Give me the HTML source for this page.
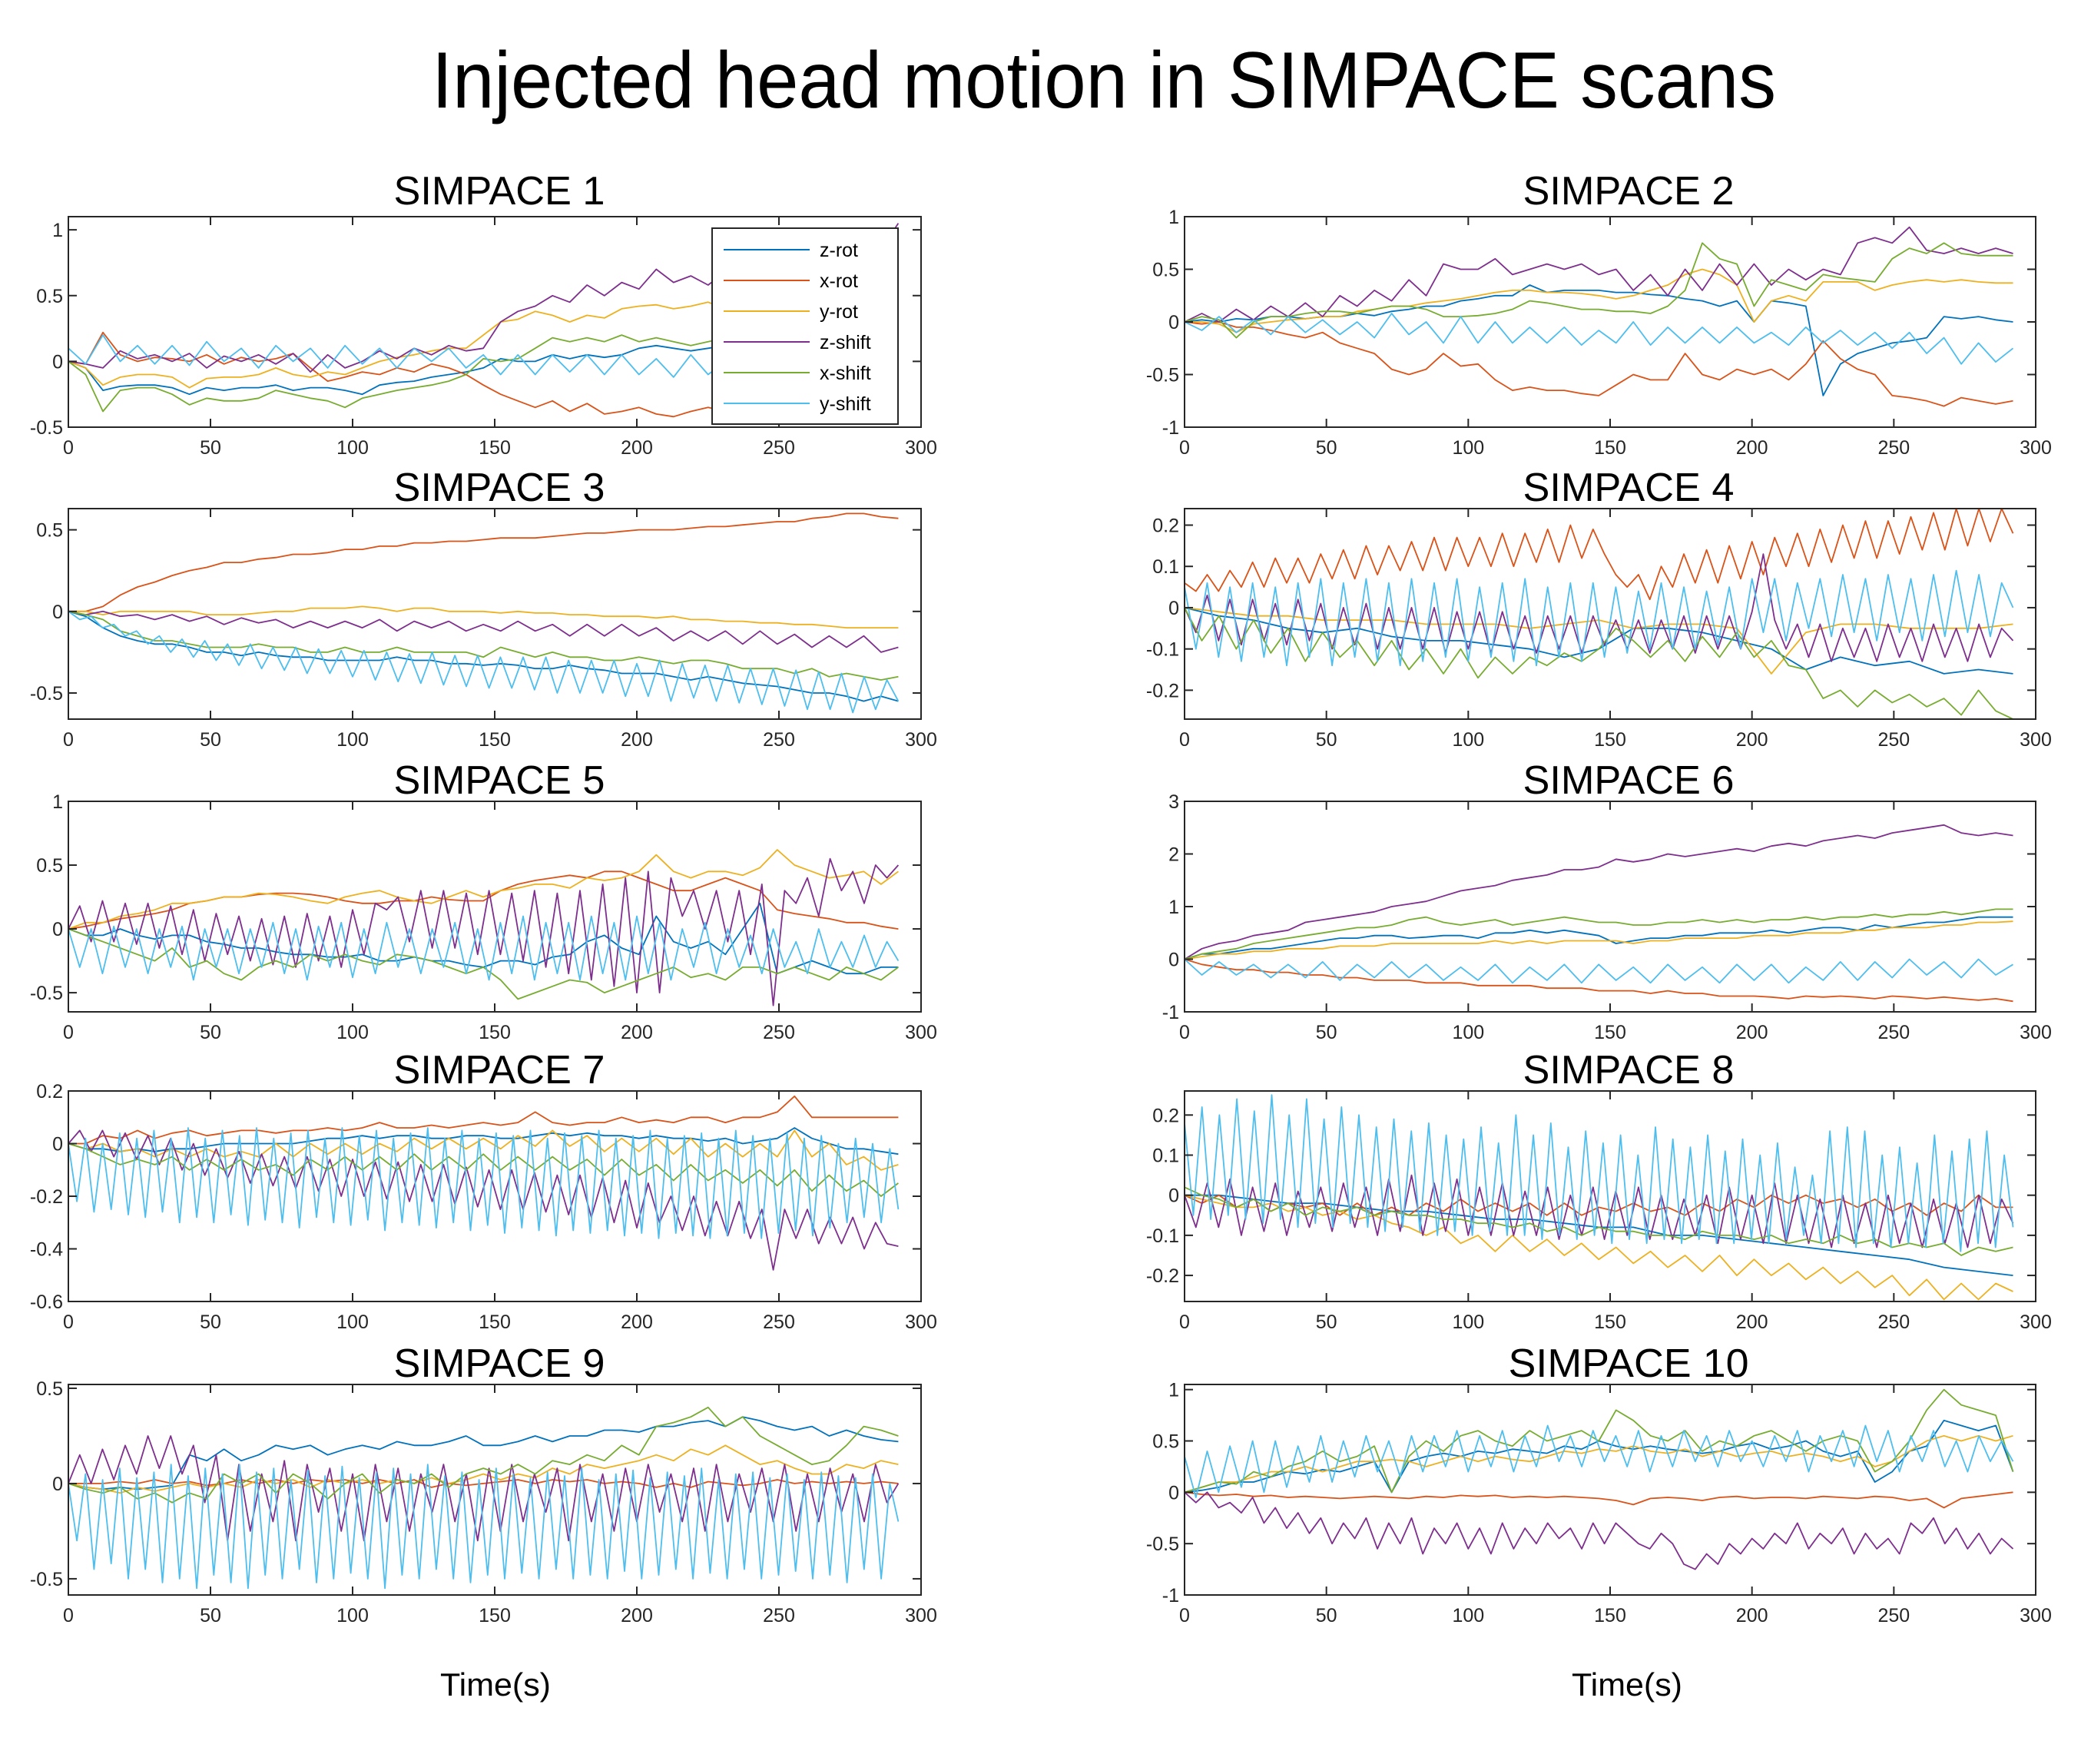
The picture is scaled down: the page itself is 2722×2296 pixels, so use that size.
<!DOCTYPE html>
<html><head><meta charset="utf-8"><style>
html,body{margin:0;padding:0;background:#fff;}
svg{display:block;}
</style></head><body>
<svg id="fig" width="2722" height="2296" viewBox="0 0 2722 2296" xmlns="http://www.w3.org/2000/svg">
<rect x="0" y="0" width="2722" height="2296" fill="#fff"/>
<text x="1437" y="140" text-anchor="middle" font-family="Liberation Sans, sans-serif" font-size="104" textLength="1750" lengthAdjust="spacingAndGlyphs" fill="#000">Injected head motion in SIMPACE scans</text>
<text x="645" y="2207" text-anchor="middle" font-family="Liberation Sans, sans-serif" font-size="42" textLength="144" lengthAdjust="spacingAndGlyphs" fill="#000">Time(s)</text>
<text x="2118" y="2207" text-anchor="middle" font-family="Liberation Sans, sans-serif" font-size="42" textLength="144" lengthAdjust="spacingAndGlyphs" fill="#000">Time(s)</text>
<g id="plots"></g>
</svg>
<script>
// ---- data ----
const seriesNames = ["z-rot","x-rot","y-rot","z-shift","x-shift","y-shift"];
const xTicks = [0,50,100,150,200,250,300];

const p1_zrot=[0,-0.05,-0.22,-0.19,-0.18,-0.18,-0.2,-0.25,-0.2,-0.22,-0.2,-0.2,-0.18,-0.22,-0.2,-0.2,-0.22,-0.25,-0.18,-0.16,-0.15,-0.12,-0.1,-0.08,-0.05,0.02,0.0,0.0,0.05,0.02,0.05,0.03,0.05,0.1,0.12,0.1,0.08,0.1,0.12,0.1,0.07,0.05,0.06,0.05,0.08,0.05,0.04,0.05,0.05];
const p1_xrot=[0,-0.02,0.22,0.05,0.0,0.03,0.02,0.0,0.05,-0.02,0.03,0.0,0.02,0.06,-0.05,-0.15,-0.12,-0.08,-0.1,-0.05,-0.08,-0.02,-0.05,-0.1,-0.18,-0.25,-0.3,-0.35,-0.3,-0.38,-0.32,-0.4,-0.38,-0.35,-0.4,-0.42,-0.38,-0.35,-0.38,-0.4,-0.36,-0.38,-0.34,-0.4,-0.36,-0.38,-0.35,-0.38,-0.4];
const p1_yrot=[0,-0.05,-0.18,-0.12,-0.1,-0.1,-0.12,-0.2,-0.13,-0.12,-0.12,-0.1,-0.05,-0.1,-0.12,-0.08,-0.1,-0.05,0.0,0.03,0.05,0.08,0.1,0.1,0.2,0.3,0.32,0.38,0.35,0.3,0.35,0.33,0.4,0.42,0.43,0.4,0.42,0.45,0.4,0.42,0.43,0.4,0.45,0.42,0.4,0.43,0.4,0.42,0.4];
const p1_zshift=[0,-0.02,-0.05,0.08,0.02,0.05,0.0,0.06,-0.05,0.04,0.0,0.05,-0.02,0.06,-0.08,0.05,-0.05,0.0,0.08,0.02,0.1,0.05,0.12,0.08,0.1,0.3,0.38,0.42,0.5,0.45,0.58,0.5,0.6,0.55,0.7,0.6,0.65,0.58,0.68,0.62,0.7,0.65,0.75,0.7,0.8,0.75,0.9,0.85,1.05];
const p1_xshift=[0,-0.1,-0.38,-0.22,-0.2,-0.2,-0.25,-0.33,-0.28,-0.3,-0.3,-0.28,-0.22,-0.25,-0.28,-0.3,-0.35,-0.28,-0.25,-0.22,-0.2,-0.18,-0.15,-0.1,0.02,0.0,0.02,0.1,0.18,0.15,0.18,0.15,0.2,0.15,0.18,0.15,0.12,0.15,0.18,0.2,0.15,0.12,0.1,0.12,0.1,0.12,0.1,0.12,0.1];
const p1_yshift=[0.1,-0.02,0.2,0.0,0.12,-0.02,0.12,-0.03,0.15,0.0,0.1,-0.05,0.12,0.0,0.1,-0.05,0.12,-0.02,0.1,-0.05,0.1,0.0,0.1,-0.05,0.05,-0.1,0.05,-0.1,0.05,-0.08,0.05,-0.1,0.05,-0.1,0.02,-0.12,0.05,-0.1,0.0,-0.12,0.02,-0.1,0.0,-0.12,0.02,-0.1,0.0,-0.1,0.0];

const p2_zrot=[0,0.02,0.0,0.03,0.02,0.05,0.05,0.03,0.05,0.05,0.08,0.06,0.1,0.12,0.15,0.15,0.2,0.22,0.25,0.25,0.35,0.28,0.3,0.3,0.3,0.28,0.28,0.26,0.25,0.22,0.2,0.15,0.2,0.0,0.2,0.18,0.15,-0.7,-0.4,-0.3,-0.25,-0.2,-0.18,-0.15,0.05,0.03,0.05,0.02,0.0];
const p2_xrot=[0,-0.02,0.0,-0.05,-0.05,-0.08,-0.12,-0.15,-0.1,-0.2,-0.25,-0.3,-0.45,-0.5,-0.45,-0.3,-0.42,-0.4,-0.55,-0.65,-0.62,-0.65,-0.65,-0.68,-0.7,-0.6,-0.5,-0.55,-0.55,-0.3,-0.5,-0.55,-0.45,-0.5,-0.45,-0.55,-0.4,-0.18,-0.35,-0.45,-0.5,-0.7,-0.72,-0.75,-0.8,-0.72,-0.75,-0.78,-0.75];
const p2_yrot=[0,0.0,-0.02,-0.1,-0.02,0.0,0.02,0.03,0.05,0.05,0.1,0.12,0.15,0.15,0.18,0.2,0.22,0.25,0.28,0.3,0.3,0.28,0.28,0.27,0.25,0.22,0.25,0.3,0.35,0.45,0.5,0.45,0.35,0.0,0.2,0.25,0.2,0.38,0.38,0.38,0.3,0.35,0.38,0.4,0.38,0.4,0.38,0.37,0.37];
const p2_zshift=[0,0.08,0.0,0.12,0.02,0.15,0.05,0.18,0.05,0.25,0.15,0.3,0.2,0.4,0.25,0.55,0.5,0.5,0.6,0.45,0.5,0.55,0.5,0.55,0.45,0.5,0.3,0.45,0.25,0.5,0.3,0.55,0.35,0.55,0.35,0.5,0.4,0.5,0.45,0.75,0.8,0.75,0.9,0.68,0.65,0.7,0.65,0.7,0.65];
const p2_xshift=[0,0.05,0.02,-0.15,0.0,0.05,0.05,0.08,0.1,0.1,0.08,0.12,0.15,0.15,0.12,0.05,0.05,0.06,0.08,0.12,0.2,0.18,0.15,0.12,0.12,0.1,0.1,0.08,0.15,0.3,0.75,0.6,0.55,0.15,0.4,0.35,0.3,0.45,0.42,0.4,0.38,0.6,0.7,0.65,0.75,0.65,0.63,0.63,0.63];
const p2_yshift=[0,-0.08,0.05,-0.1,0.02,-0.12,0.05,-0.1,0.02,-0.12,0.0,-0.15,0.08,-0.12,0.0,-0.2,0.05,-0.2,0.0,-0.2,-0.05,-0.2,-0.05,-0.22,-0.08,-0.2,0.0,-0.22,-0.05,-0.2,-0.05,-0.2,-0.05,-0.2,-0.1,-0.22,-0.05,-0.2,-0.08,-0.22,-0.1,-0.25,-0.1,-0.3,-0.15,-0.4,-0.2,-0.38,-0.25];

const p3_zrot=[0,-0.03,-0.1,-0.15,-0.18,-0.2,-0.2,-0.22,-0.25,-0.25,-0.27,-0.25,-0.27,-0.28,-0.28,-0.3,-0.3,-0.3,-0.3,-0.28,-0.3,-0.3,-0.32,-0.32,-0.33,-0.32,-0.33,-0.35,-0.35,-0.33,-0.35,-0.36,-0.38,-0.38,-0.38,-0.4,-0.42,-0.4,-0.42,-0.44,-0.45,-0.46,-0.48,-0.5,-0.5,-0.52,-0.55,-0.52,-0.55];
const p3_xrot=[0,0.0,0.03,0.1,0.15,0.18,0.22,0.25,0.27,0.3,0.3,0.32,0.33,0.35,0.35,0.36,0.38,0.38,0.4,0.4,0.42,0.42,0.43,0.43,0.44,0.45,0.45,0.45,0.46,0.47,0.48,0.48,0.49,0.5,0.5,0.5,0.51,0.52,0.52,0.53,0.54,0.55,0.55,0.57,0.58,0.6,0.6,0.58,0.57];
const p3_yrot=[0,0.0,-0.02,0.0,0.0,0.0,0.0,0.0,-0.02,-0.02,-0.02,-0.01,0.0,0.0,0.02,0.02,0.02,0.03,0.02,0.0,0.02,0.02,0.0,0.0,0.0,-0.01,0.0,-0.01,-0.01,-0.02,-0.02,-0.03,-0.03,-0.03,-0.04,-0.03,-0.05,-0.05,-0.06,-0.06,-0.07,-0.07,-0.08,-0.08,-0.09,-0.1,-0.1,-0.1,-0.1];
const p3_zshift=[0,-0.02,0.0,-0.03,-0.02,-0.05,-0.02,-0.06,-0.03,-0.08,-0.04,-0.07,-0.05,-0.1,-0.06,-0.1,-0.06,-0.1,-0.05,-0.12,-0.06,-0.1,-0.06,-0.12,-0.08,-0.12,-0.06,-0.12,-0.08,-0.15,-0.08,-0.15,-0.08,-0.15,-0.1,-0.18,-0.12,-0.18,-0.12,-0.2,-0.12,-0.2,-0.14,-0.22,-0.15,-0.22,-0.15,-0.25,-0.22];
const p3_xshift=[0,-0.02,-0.05,-0.12,-0.15,-0.18,-0.18,-0.2,-0.22,-0.22,-0.22,-0.2,-0.22,-0.22,-0.25,-0.25,-0.22,-0.25,-0.25,-0.22,-0.25,-0.25,-0.25,-0.25,-0.28,-0.22,-0.25,-0.28,-0.25,-0.28,-0.28,-0.3,-0.3,-0.28,-0.3,-0.32,-0.3,-0.3,-0.32,-0.35,-0.35,-0.35,-0.38,-0.35,-0.4,-0.38,-0.4,-0.42,-0.4];
const p3_yshift=[0,-0.05,-0.03,-0.1,-0.08,-0.15,-0.12,-0.2,-0.15,-0.25,-0.17,-0.28,-0.18,-0.3,-0.2,-0.33,-0.2,-0.35,-0.22,-0.36,-0.22,-0.38,-0.23,-0.38,-0.24,-0.4,-0.24,-0.42,-0.25,-0.43,-0.26,-0.44,-0.25,-0.45,-0.27,-0.46,-0.27,-0.47,-0.28,-0.47,-0.28,-0.48,-0.28,-0.5,-0.3,-0.5,-0.3,-0.5,-0.3,-0.52,-0.32,-0.52,-0.3,-0.55,-0.32,-0.53,-0.33,-0.55,-0.33,-0.56,-0.35,-0.57,-0.35,-0.58,-0.36,-0.6,-0.37,-0.6,-0.38,-0.62,-0.4,-0.6,-0.42,-0.55];

const p4_zrot=[0.0,-0.02,-0.03,-0.05,-0.06,-0.05,-0.07,-0.08,-0.08,-0.09,-0.1,-0.12,-0.1,-0.05,-0.05,-0.06,-0.08,-0.1,-0.15,-0.12,-0.14,-0.13,-0.16,-0.15,-0.16];
const p4_xrot=[0.06,0.04,0.08,0.04,0.09,0.05,0.11,0.05,0.12,0.06,0.12,0.06,0.13,0.07,0.14,0.07,0.15,0.08,0.15,0.09,0.16,0.09,0.17,0.09,0.17,0.1,0.17,0.1,0.18,0.1,0.18,0.11,0.19,0.11,0.2,0.12,0.19,0.13,0.08,0.05,0.08,0.02,0.1,0.05,0.13,0.06,0.14,0.06,0.15,0.07,0.16,0.08,0.17,0.1,0.18,0.1,0.19,0.11,0.2,0.12,0.21,0.12,0.21,0.13,0.22,0.14,0.23,0.14,0.24,0.15,0.24,0.16,0.24,0.18];
const p4_yrot=[0.0,-0.01,-0.02,-0.02,-0.03,-0.03,-0.03,-0.04,-0.04,-0.04,-0.05,-0.04,-0.03,-0.05,-0.04,-0.04,-0.05,-0.16,-0.06,-0.04,-0.04,-0.05,-0.05,-0.05,-0.04];
const p4_zshift=[0.0,-0.06,0.03,-0.08,0.02,-0.09,0.02,-0.08,0.01,-0.09,0.02,-0.08,0.01,-0.1,0.0,-0.09,0.01,-0.1,0.0,-0.1,0.0,-0.1,0.0,-0.11,-0.01,-0.1,-0.01,-0.11,-0.01,-0.1,-0.02,-0.11,-0.02,-0.1,-0.02,-0.11,-0.02,-0.09,-0.03,-0.1,-0.03,-0.11,-0.03,-0.1,-0.02,-0.11,-0.02,-0.1,-0.02,-0.1,-0.01,0.13,-0.03,-0.1,-0.04,-0.12,-0.04,-0.13,-0.05,-0.12,-0.05,-0.13,-0.04,-0.12,-0.05,-0.13,-0.04,-0.12,-0.05,-0.13,-0.04,-0.12,-0.05,-0.08];
const p4_xshift=[0.0,-0.08,-0.02,-0.1,-0.03,-0.11,-0.05,-0.13,-0.06,-0.12,-0.08,-0.14,-0.08,-0.15,-0.1,-0.16,-0.1,-0.17,-0.12,-0.16,-0.12,-0.14,-0.11,-0.13,-0.1,-0.05,-0.08,-0.12,-0.08,-0.13,-0.07,-0.12,-0.06,-0.12,-0.08,-0.14,-0.15,-0.22,-0.2,-0.24,-0.2,-0.23,-0.21,-0.24,-0.22,-0.26,-0.2,-0.25,-0.27];
const p4_yshift=[0.05,-0.1,0.06,-0.12,0.05,-0.13,0.06,-0.12,0.05,-0.14,0.06,-0.12,0.07,-0.14,0.06,-0.12,0.07,-0.13,0.06,-0.14,0.07,-0.13,0.06,-0.12,0.07,-0.13,0.05,-0.12,0.06,-0.13,0.07,-0.14,0.05,-0.12,0.06,-0.13,0.06,-0.12,0.05,-0.11,0.04,-0.1,0.06,-0.1,0.05,-0.1,0.04,-0.09,0.05,-0.1,0.07,-0.06,0.07,-0.08,0.06,-0.05,0.07,-0.07,0.08,-0.06,0.07,-0.08,0.08,-0.06,0.07,-0.08,0.08,-0.07,0.09,-0.06,0.08,-0.07,0.06,0.0];

const p5_zrot=[0,-0.05,-0.05,0.0,-0.05,-0.08,-0.05,-0.05,-0.1,-0.12,-0.15,-0.15,-0.18,-0.2,-0.2,-0.22,-0.22,-0.2,-0.25,-0.25,-0.22,-0.25,-0.25,-0.28,-0.3,-0.25,-0.25,-0.28,-0.22,-0.2,-0.1,-0.05,-0.15,-0.2,0.1,-0.1,-0.15,-0.1,-0.2,0.0,0.2,-0.35,-0.3,-0.25,-0.3,-0.35,-0.35,-0.3,-0.3];
const p5_xrot=[0,0.02,0.05,0.08,0.1,0.12,0.15,0.2,0.22,0.25,0.25,0.27,0.28,0.28,0.27,0.25,0.22,0.2,0.2,0.22,0.22,0.25,0.23,0.22,0.22,0.3,0.35,0.38,0.4,0.42,0.4,0.45,0.45,0.4,0.35,0.3,0.3,0.35,0.4,0.35,0.3,0.15,0.12,0.1,0.08,0.05,0.05,0.02,0.0];
const p5_yrot=[0,0.05,0.05,0.1,0.12,0.15,0.2,0.2,0.22,0.25,0.25,0.28,0.27,0.25,0.22,0.2,0.25,0.28,0.3,0.25,0.22,0.2,0.25,0.3,0.25,0.3,0.32,0.35,0.35,0.32,0.4,0.38,0.4,0.45,0.58,0.45,0.4,0.45,0.45,0.42,0.48,0.62,0.5,0.45,0.4,0.42,0.45,0.35,0.45];
const p5_zshift=[0,0.18,-0.1,0.22,-0.1,0.2,-0.12,0.2,-0.15,0.18,-0.2,0.15,-0.25,0.12,-0.2,0.1,-0.25,0.08,-0.28,0.1,-0.3,0.12,-0.25,0.1,-0.3,0.15,-0.2,0.2,0.15,0.25,-0.1,0.3,-0.15,0.3,-0.15,0.28,-0.2,0.3,-0.2,0.28,-0.25,0.3,-0.3,0.28,-0.35,0.3,-0.4,0.35,-0.45,0.4,-0.5,0.45,-0.5,0.4,0.1,0.3,0.0,0.3,-0.1,0.3,-0.2,0.35,-0.6,0.3,0.2,0.4,0.1,0.55,0.3,0.45,0.2,0.5,0.4,0.5];
const p5_xshift=[0,-0.05,-0.1,-0.15,-0.2,-0.25,-0.15,-0.3,-0.25,-0.35,-0.4,-0.3,-0.25,-0.3,-0.2,-0.25,-0.2,-0.25,-0.28,-0.2,-0.22,-0.25,-0.3,-0.35,-0.3,-0.4,-0.55,-0.5,-0.45,-0.4,-0.42,-0.5,-0.45,-0.4,-0.35,-0.3,-0.38,-0.35,-0.4,-0.3,-0.3,-0.35,-0.3,-0.35,-0.4,-0.3,-0.35,-0.4,-0.3];
const p5_yshift=[0,-0.3,0.0,-0.35,0.02,-0.3,0.0,-0.35,0.0,-0.3,0.02,-0.4,0.0,-0.3,0.0,-0.35,0.0,-0.3,0.05,-0.35,0.0,-0.4,0.02,-0.3,0.05,-0.38,0.0,-0.35,0.05,-0.3,0.0,-0.35,0.0,-0.3,0.05,-0.35,0.0,-0.4,0.05,-0.35,0.1,-0.4,0.05,-0.35,0.05,-0.4,0.1,-0.35,0.05,-0.4,0.1,-0.35,0.05,-0.4,0.0,-0.3,0.05,-0.35,0.0,-0.3,-0.05,-0.35,0.0,-0.3,-0.1,-0.35,0.0,-0.3,-0.1,-0.3,-0.05,-0.3,-0.1,-0.25];

const p6_zrot=[0,0.1,0.1,0.15,0.2,0.2,0.25,0.3,0.35,0.4,0.4,0.45,0.45,0.4,0.42,0.45,0.45,0.4,0.5,0.5,0.55,0.5,0.55,0.5,0.45,0.3,0.35,0.4,0.4,0.45,0.45,0.5,0.5,0.5,0.55,0.5,0.55,0.6,0.6,0.55,0.65,0.6,0.65,0.7,0.7,0.75,0.8,0.8,0.8];
const p6_xrot=[0,-0.1,-0.15,-0.2,-0.2,-0.25,-0.25,-0.3,-0.3,-0.35,-0.35,-0.4,-0.4,-0.4,-0.45,-0.45,-0.45,-0.5,-0.5,-0.5,-0.5,-0.55,-0.55,-0.55,-0.6,-0.6,-0.6,-0.65,-0.6,-0.65,-0.65,-0.7,-0.7,-0.7,-0.72,-0.75,-0.7,-0.72,-0.7,-0.72,-0.75,-0.7,-0.72,-0.75,-0.72,-0.75,-0.78,-0.75,-0.8];
const p6_yrot=[0,0.05,0.1,0.1,0.15,0.15,0.2,0.2,0.2,0.25,0.25,0.25,0.3,0.3,0.3,0.3,0.3,0.3,0.35,0.3,0.35,0.3,0.35,0.35,0.35,0.35,0.3,0.35,0.35,0.4,0.4,0.4,0.4,0.45,0.45,0.45,0.5,0.5,0.5,0.55,0.55,0.6,0.6,0.6,0.65,0.65,0.7,0.7,0.72];
const p6_zshift=[0,0.2,0.3,0.35,0.45,0.5,0.55,0.7,0.75,0.8,0.85,0.9,1.0,1.05,1.1,1.2,1.3,1.35,1.4,1.5,1.55,1.6,1.7,1.7,1.75,1.9,1.85,1.9,2.0,1.95,2.0,2.05,2.1,2.05,2.15,2.2,2.15,2.25,2.3,2.35,2.3,2.4,2.45,2.5,2.55,2.4,2.35,2.4,2.35];
const p6_xshift=[0,0.1,0.15,0.2,0.3,0.35,0.4,0.45,0.5,0.55,0.6,0.6,0.65,0.75,0.8,0.7,0.65,0.7,0.75,0.65,0.7,0.75,0.8,0.75,0.7,0.7,0.65,0.65,0.7,0.7,0.75,0.7,0.75,0.7,0.75,0.75,0.8,0.75,0.8,0.8,0.85,0.8,0.85,0.85,0.9,0.85,0.9,0.95,0.95];
const p6_yshift=[0,-0.3,-0.05,-0.3,-0.1,-0.35,-0.1,-0.35,-0.05,-0.4,-0.1,-0.35,-0.05,-0.35,-0.1,-0.4,-0.15,-0.4,-0.1,-0.45,-0.15,-0.4,-0.1,-0.45,-0.1,-0.4,-0.15,-0.45,-0.1,-0.4,-0.15,-0.45,-0.1,-0.4,-0.1,-0.45,-0.15,-0.4,-0.05,-0.4,-0.05,-0.35,0.0,-0.3,-0.05,-0.35,0.0,-0.3,-0.1];

const p7_zrot=[0,-0.02,-0.02,-0.03,-0.02,-0.03,-0.02,-0.02,-0.01,0.0,0.0,0.0,0.0,0.0,0.01,0.02,0.02,0.03,0.02,0.03,0.03,0.02,0.02,0.03,0.03,0.02,0.02,0.03,0.04,0.03,0.04,0.03,0.03,0.02,0.03,0.02,0.02,0.01,0.02,0.0,0.01,0.02,0.06,0.02,0.0,-0.02,-0.02,-0.03,-0.04];
const p7_xrot=[0,0.0,0.03,0.02,0.05,0.02,0.04,0.05,0.03,0.04,0.05,0.05,0.04,0.05,0.05,0.06,0.05,0.06,0.08,0.06,0.06,0.07,0.06,0.07,0.08,0.07,0.08,0.12,0.08,0.07,0.08,0.08,0.1,0.08,0.09,0.08,0.1,0.1,0.08,0.1,0.1,0.12,0.18,0.1,0.1,0.1,0.1,0.1,0.1];
const p7_yrot=[0,-0.02,0.0,-0.03,-0.02,-0.05,-0.02,-0.05,-0.02,-0.05,-0.03,-0.05,0.0,-0.05,0.0,-0.04,0.0,-0.04,0.0,-0.03,0.02,-0.02,0.02,-0.02,0.02,-0.02,0.03,-0.01,0.05,-0.01,0.03,-0.03,0.02,-0.03,0.02,-0.04,0.02,-0.05,0.0,-0.05,0.0,-0.05,0.05,-0.05,0.0,-0.08,-0.05,-0.1,-0.08];
const p7_zshift=[0,0.05,-0.03,0.05,-0.05,0.04,-0.06,0.03,-0.08,0.02,-0.1,0.0,-0.12,-0.02,-0.13,-0.03,-0.15,-0.04,-0.16,-0.05,-0.17,-0.05,-0.18,-0.06,-0.2,-0.06,-0.2,-0.07,-0.21,-0.07,-0.22,-0.08,-0.22,-0.08,-0.23,-0.09,-0.24,-0.1,-0.25,-0.1,-0.25,-0.11,-0.26,-0.12,-0.27,-0.12,-0.28,-0.13,-0.3,-0.14,-0.32,-0.15,-0.3,-0.2,-0.33,-0.2,-0.35,-0.22,-0.35,-0.22,-0.36,-0.25,-0.48,-0.25,-0.36,-0.25,-0.38,-0.28,-0.38,-0.28,-0.4,-0.3,-0.38,-0.39];
const p7_xshift=[0,-0.02,-0.05,-0.08,-0.06,-0.08,-0.05,-0.1,-0.06,-0.1,-0.06,-0.1,-0.08,-0.12,-0.06,-0.1,-0.05,-0.1,-0.05,-0.1,-0.04,-0.1,-0.05,-0.1,-0.04,-0.1,-0.05,-0.1,-0.05,-0.1,-0.06,-0.12,-0.06,-0.12,-0.08,-0.14,-0.08,-0.14,-0.1,-0.15,-0.1,-0.16,-0.1,-0.18,-0.12,-0.18,-0.14,-0.2,-0.15];
const p7_yshift=[0,-0.22,0.02,-0.26,0.0,-0.25,0.04,-0.27,0.02,-0.28,0.05,-0.26,0.02,-0.3,0.06,-0.28,0.02,-0.3,0.05,-0.27,0.03,-0.31,0.06,-0.29,0.02,-0.3,0.04,-0.32,0.05,-0.28,0.02,-0.3,0.06,-0.31,0.03,-0.29,0.05,-0.33,0.02,-0.3,0.04,-0.31,0.06,-0.32,0.02,-0.3,0.05,-0.33,0.02,-0.31,0.04,-0.34,0.03,-0.32,0.05,-0.33,0.02,-0.35,0.04,-0.33,0.03,-0.34,0.05,-0.33,0.02,-0.35,0.03,-0.34,0.05,-0.36,0.02,-0.34,0.03,-0.35,0.04,-0.36,0.02,-0.35,0.05,-0.34,0.03,-0.36,0.02,-0.34,0.04,-0.33,0.02,-0.35,0.03,-0.32,0.0,-0.3,0.02,-0.28,0.0,-0.3,-0.02,-0.25];

const p8_zrot=[0,0.0,-0.01,-0.02,-0.02,-0.03,-0.04,-0.04,-0.05,-0.06,-0.06,-0.07,-0.08,-0.08,-0.1,-0.1,-0.11,-0.12,-0.13,-0.14,-0.15,-0.16,-0.18,-0.19,-0.2];
const p8_xrot=[0,-0.02,0.0,-0.03,-0.01,-0.04,-0.02,-0.03,-0.02,-0.05,-0.02,-0.05,-0.03,-0.05,-0.02,-0.04,-0.01,-0.04,-0.02,-0.04,-0.02,-0.05,-0.02,-0.05,-0.03,-0.04,-0.02,-0.04,-0.03,-0.05,-0.02,-0.04,-0.01,-0.03,0.0,-0.02,0.0,-0.02,-0.01,-0.03,-0.01,-0.04,-0.02,-0.05,-0.02,-0.04,0.0,-0.03,-0.03];
const p8_yrot=[0,-0.01,-0.02,-0.03,-0.03,-0.02,-0.04,-0.03,-0.05,-0.04,-0.06,-0.05,-0.07,-0.08,-0.1,-0.08,-0.12,-0.1,-0.14,-0.1,-0.14,-0.11,-0.15,-0.12,-0.16,-0.13,-0.17,-0.14,-0.18,-0.15,-0.19,-0.15,-0.2,-0.16,-0.2,-0.17,-0.21,-0.18,-0.22,-0.19,-0.23,-0.2,-0.25,-0.21,-0.26,-0.22,-0.26,-0.22,-0.24];
const p8_zshift=[0,-0.08,0.03,-0.08,0.04,-0.1,0.02,-0.09,0.03,-0.1,0.01,-0.08,0.02,-0.09,0.03,-0.08,0.02,-0.1,0.04,-0.09,0.05,-0.1,0.03,-0.09,0.04,-0.1,0.02,-0.1,0.03,-0.1,0.01,-0.1,0.02,-0.11,0.0,-0.1,0.02,-0.11,0.01,-0.1,0.02,-0.11,0.0,-0.11,-0.01,-0.1,0.0,-0.12,0.02,-0.11,0.0,-0.12,0.03,-0.12,0.0,-0.12,-0.01,-0.13,0.0,-0.12,-0.02,-0.13,0.0,-0.12,-0.02,-0.13,-0.01,-0.12,-0.02,-0.13,0.0,-0.12,-0.01,-0.07];
const p8_xshift=[0.02,0.0,-0.01,-0.03,-0.01,-0.04,-0.02,-0.05,-0.03,-0.04,-0.03,-0.05,-0.04,-0.05,-0.05,-0.06,-0.06,-0.07,-0.07,-0.08,-0.07,-0.09,-0.08,-0.1,-0.08,-0.09,-0.09,-0.1,-0.1,-0.11,-0.09,-0.1,-0.1,-0.11,-0.1,-0.12,-0.11,-0.12,-0.1,-0.12,-0.11,-0.13,-0.12,-0.13,-0.12,-0.15,-0.13,-0.14,-0.13];
const p8_yshift=[0.18,-0.05,0.22,-0.06,0.2,-0.05,0.24,-0.06,0.21,-0.07,0.25,-0.06,0.2,-0.08,0.24,-0.07,0.19,-0.08,0.22,-0.07,0.2,-0.08,0.17,-0.09,0.19,-0.08,0.16,-0.09,0.18,-0.1,0.15,-0.09,0.14,-0.1,0.17,-0.09,0.13,-0.1,0.2,-0.1,0.15,-0.11,0.18,-0.1,0.12,-0.11,0.16,-0.1,0.13,-0.12,0.15,-0.11,0.1,-0.12,0.17,-0.11,0.14,-0.12,0.12,-0.11,0.15,-0.12,0.11,-0.12,0.14,-0.11,0.1,-0.12,0.13,-0.11,0.07,-0.1,0.05,-0.12,0.16,-0.12,0.17,-0.13,0.16,-0.12,0.1,-0.13,0.12,-0.12,0.08,-0.13,0.15,-0.12,0.11,-0.14,0.14,-0.12,0.16,-0.13,0.1,-0.08];

const p9_zrot=[0,-0.02,-0.03,-0.02,-0.03,-0.02,-0.01,0.15,0.12,0.18,0.12,0.15,0.2,0.18,0.2,0.15,0.18,0.2,0.18,0.22,0.2,0.2,0.22,0.25,0.2,0.2,0.22,0.25,0.22,0.25,0.25,0.28,0.28,0.27,0.3,0.3,0.32,0.33,0.3,0.35,0.33,0.3,0.28,0.3,0.25,0.28,0.25,0.23,0.22];
const p9_xrot=[0,0.0,0.0,0.01,0.0,0.02,0.0,0.01,-0.01,0.0,0.02,0.0,0.02,0.0,0.02,0.01,0.02,0.0,0.02,0.0,0.02,-0.02,0.0,-0.01,0.0,0.01,0.02,0.0,0.02,0.01,0.02,0.0,0.01,0.0,-0.02,0.0,-0.02,0.01,0.0,-0.01,0.0,0.02,0.0,0.01,0.0,0.01,0.0,0.01,0.0];
const p9_yrot=[0,-0.02,-0.03,-0.05,-0.02,-0.04,-0.02,0.0,-0.02,0.0,-0.02,0.02,0.0,0.02,-0.02,0.02,0.0,0.02,0.0,0.02,0.0,0.03,0.0,0.02,0.05,0.02,0.05,0.03,0.08,0.05,0.1,0.08,0.1,0.12,0.15,0.12,0.18,0.15,0.2,0.15,0.1,0.12,0.08,0.05,0.05,0.1,0.08,0.12,0.1];
const p9_zshift=[0,0.15,0.0,0.18,0.02,0.2,0.05,0.25,0.08,0.25,0.05,0.2,-0.1,0.15,-0.3,0.1,-0.25,0.05,-0.2,0.12,-0.3,0.1,-0.15,0.08,-0.25,0.05,-0.3,0.1,-0.2,0.08,-0.25,0.05,-0.15,0.1,-0.2,0.05,-0.3,0.08,-0.25,0.1,-0.2,0.05,-0.15,0.08,-0.3,0.1,-0.2,0.05,-0.25,0.08,-0.2,0.1,-0.15,0.05,-0.2,0.08,-0.25,0.1,-0.2,0.05,-0.15,0.08,-0.2,0.1,-0.25,0.05,-0.2,0.08,-0.15,0.05,-0.2,0.1,-0.1,0.0];
const p9_xshift=[0,-0.03,-0.05,-0.02,-0.08,-0.05,-0.1,-0.05,-0.08,0.05,0.0,0.05,-0.05,0.05,0.0,-0.08,0.0,0.05,-0.05,0.02,0.0,0.05,-0.02,0.05,0.08,0.05,0.1,0.05,0.12,0.1,0.15,0.12,0.2,0.15,0.3,0.32,0.35,0.4,0.3,0.35,0.25,0.2,0.15,0.1,0.12,0.2,0.3,0.28,0.25];
const p9_yshift=[0,-0.3,0.05,-0.45,0.02,-0.42,0.08,-0.5,0.03,-0.45,0.06,-0.52,0.1,-0.5,0.04,-0.55,0.08,-0.48,0.05,-0.52,0.1,-0.55,0.06,-0.48,0.08,-0.5,0.02,-0.45,0.07,-0.52,0.04,-0.5,0.09,-0.47,0.03,-0.5,0.06,-0.55,0.08,-0.48,0.05,-0.5,0.1,-0.45,0.04,-0.5,0.06,-0.52,0.02,-0.48,0.08,-0.5,0.05,-0.47,0.03,-0.5,0.06,-0.45,0.04,-0.5,0.08,-0.48,0.02,-0.5,0.05,-0.46,0.07,-0.5,0.03,-0.48,0.06,-0.45,0.04,-0.5,0.08,-0.47,0.02,-0.5,0.05,-0.45,0.06,-0.5,0.03,-0.48,0.05,-0.46,0.02,-0.5,0.06,-0.48,0.04,-0.52,0.03,-0.45,0.05,-0.5,0.0,-0.2];

const p10_zrot=[0,0.02,0.05,0.1,0.1,0.15,0.2,0.18,0.22,0.2,0.25,0.3,0.0,0.3,0.35,0.38,0.35,0.4,0.38,0.42,0.4,0.38,0.45,0.42,0.5,0.45,0.42,0.45,0.42,0.4,0.38,0.4,0.45,0.48,0.42,0.45,0.5,0.4,0.35,0.4,0.1,0.2,0.4,0.45,0.7,0.65,0.6,0.65,0.2];
const p10_xrot=[0,-0.02,-0.03,-0.02,-0.04,-0.03,-0.05,-0.04,-0.05,-0.06,-0.05,-0.04,-0.05,-0.06,-0.04,-0.05,-0.03,-0.04,-0.03,-0.05,-0.04,-0.05,-0.04,-0.05,-0.06,-0.08,-0.12,-0.06,-0.05,-0.06,-0.08,-0.05,-0.04,-0.06,-0.05,-0.05,-0.06,-0.04,-0.05,-0.06,-0.04,-0.05,-0.08,-0.06,-0.15,-0.06,-0.04,-0.02,0.0];
const p10_yrot=[0,0.05,0.1,0.1,0.15,0.2,0.2,0.25,0.2,0.25,0.3,0.3,0.32,0.3,0.25,0.3,0.35,0.3,0.35,0.32,0.3,0.35,0.4,0.38,0.42,0.4,0.45,0.4,0.38,0.42,0.35,0.4,0.35,0.38,0.4,0.35,0.38,0.35,0.3,0.35,0.25,0.3,0.4,0.5,0.55,0.5,0.55,0.5,0.55];
const p10_zshift=[0,-0.1,0.0,-0.15,-0.1,-0.2,-0.05,-0.3,-0.15,-0.35,-0.2,-0.4,-0.25,-0.5,-0.3,-0.45,-0.25,-0.55,-0.3,-0.5,-0.25,-0.6,-0.35,-0.5,-0.3,-0.55,-0.35,-0.6,-0.3,-0.55,-0.35,-0.5,-0.3,-0.45,-0.35,-0.55,-0.3,-0.5,-0.3,-0.4,-0.5,-0.55,-0.4,-0.5,-0.7,-0.75,-0.6,-0.7,-0.5,-0.6,-0.45,-0.55,-0.4,-0.5,-0.3,-0.55,-0.4,-0.5,-0.35,-0.6,-0.4,-0.55,-0.45,-0.6,-0.3,-0.4,-0.25,-0.5,-0.35,-0.55,-0.4,-0.6,-0.45,-0.55];
const p10_xshift=[0,0.05,0.1,0.08,0.2,0.15,0.25,0.3,0.4,0.3,0.35,0.45,0.0,0.35,0.5,0.4,0.55,0.6,0.5,0.45,0.6,0.5,0.55,0.6,0.5,0.8,0.7,0.55,0.5,0.6,0.4,0.5,0.45,0.55,0.6,0.5,0.4,0.5,0.55,0.5,0.2,0.3,0.5,0.8,1.0,0.85,0.8,0.75,0.2];
const p10_yshift=[0.35,-0.05,0.4,0.0,0.45,0.05,0.5,0.0,0.5,0.05,0.45,0.1,0.55,0.1,0.5,0.15,0.55,0.2,0.5,0.15,0.55,0.2,0.55,0.25,0.6,0.2,0.55,0.25,0.6,0.2,0.55,0.25,0.65,0.3,0.55,0.25,0.6,0.3,0.55,0.25,0.6,0.2,0.55,0.25,0.6,0.3,0.55,0.25,0.6,0.3,0.5,0.25,0.55,0.3,0.6,0.2,0.55,0.3,0.6,0.25,0.65,0.3,0.6,0.2,0.55,0.3,0.6,0.25,0.5,0.2,0.55,0.3,0.5,0.3];

const yTicks1=[-0.5,0,0.5,1], yTicks2=[-1,-0.5,0,0.5,1], yTicks3=[-0.5,0,0.5], yTicks4=[-0.2,-0.1,0,0.1,0.2];
const yTicks5=[-0.5,0,0.5,1], yTicks6=[-1,0,1,2,3], yTicks7=[-0.6,-0.4,-0.2,0,0.2], yTicks8=[-0.2,-0.1,0,0.1,0.2];
const yTicks9=[-0.5,0,0.5], yTicks10=[-1,-0.5,0,0.5,1];
const yLim1=[-0.5,1.1], yLim2=[-1,1], yLim3=[-0.66,0.63], yLim4=[-0.27,0.24], yLim5=[-0.65,1];
const yLim6=[-1,3], yLim7=[-0.6,0.2], yLim8=[-0.265,0.26], yLim9=[-0.585,0.52], yLim10=[-1,1.05];
const xLim=[0,300];
const tEnd=292;

// ---- layout ----
const colors=["#0072BD","#D95319","#EDB120","#7E2F8E","#77AC30","#4DBEEE"];
const colX=[[89,1199],[1542,2650]];
const rowTop=[282,662,1043,1420,1802];
const plotH=274;
const panels=[
 {n:1,y:yLim1,t:yTicks1,s:[p1_zrot,p1_xrot,p1_yrot,p1_zshift,p1_xshift,p1_yshift]},
 {n:2,y:yLim2,t:yTicks2,s:[p2_zrot,p2_xrot,p2_yrot,p2_zshift,p2_xshift,p2_yshift]},
 {n:3,y:yLim3,t:yTicks3,s:[p3_zrot,p3_xrot,p3_yrot,p3_zshift,p3_xshift,p3_yshift]},
 {n:4,y:yLim4,t:yTicks4,s:[p4_zrot,p4_xrot,p4_yrot,p4_zshift,p4_xshift,p4_yshift]},
 {n:5,y:yLim5,t:yTicks5,s:[p5_zrot,p5_xrot,p5_yrot,p5_zshift,p5_xshift,p5_yshift]},
 {n:6,y:yLim6,t:yTicks6,s:[p6_zrot,p6_xrot,p6_yrot,p6_zshift,p6_xshift,p6_yshift]},
 {n:7,y:yLim7,t:yTicks7,s:[p7_zrot,p7_xrot,p7_yrot,p7_zshift,p7_xshift,p7_yshift]},
 {n:8,y:yLim8,t:yTicks8,s:[p8_zrot,p8_xrot,p8_yrot,p8_zshift,p8_xshift,p8_yshift]},
 {n:9,y:yLim9,t:yTicks9,s:[p9_zrot,p9_xrot,p9_yrot,p9_zshift,p9_xshift,p9_yshift]},
 {n:10,y:yLim10,t:yTicks10,s:[p10_zrot,p10_xrot,p10_yrot,p10_zshift,p10_xshift,p10_yshift]}
];
const NS="http://www.w3.org/2000/svg";
const root=document.getElementById("plots");
function mk(tag,attrs,parent){const e=document.createElementNS(NS,tag);for(const k in attrs)e.setAttribute(k,attrs[k]);(parent||root).appendChild(e);return e;}
const FONT="Liberation Sans, Arial, sans-serif";

panels.forEach((p,idx)=>{
  const col=idx%2, row=Math.floor(idx/2);
  const x0=colX[col][0], x1=colX[col][1], y0=rowTop[row], y1=y0+plotH;
  const sx=v=>x0+(v-xLim[0])/(xLim[1]-xLim[0])*(x1-x0);
  const sy=v=>y1-(v-p.y[0])/(p.y[1]-p.y[0])*(y1-y0);
  const g=mk("g",{});
  
  
  const title=mk("text",{x:(x0+x1)/2+(col?24:6),y:y0-(row===0?16:10),"text-anchor":"middle","font-family":FONT,"font-size":52,fill:"#000",textLength:(p.n===10?313:275),lengthAdjust:"spacingAndGlyphs"},g);
  title.textContent="SIMPACE "+p.n;
  
  
  const cid="clip"+p.n;
  const cp=mk("clipPath",{id:cid},g);
  mk("rect",{x:x0,y:y0,width:x1-x0,height:y1-y0},cp);
  const lines=mk("g",{"clip-path":"url(#"+cid+")"},g);
  p.s.forEach((vals,si)=>{
    const n=vals.length;
    let d="";
    vals.forEach((v,i)=>{const t=i*tEnd/(n-1);d+=(i?"L":"M")+sx(t).toFixed(1)+","+sy(v).toFixed(1);});
    const path=mk("path",{d:d,fill:"none",stroke:colors[si],"stroke-width":1.8,"stroke-linejoin":"round"},lines);
    
    
  });
  const box=mk("rect",{x:x0,y:y0,width:x1-x0,height:y1-y0,fill:"none",stroke:"#262626","stroke-width":2},g);
  
  
  xTicks.forEach(v=>{
    const X=sx(v);
    mk("line",{x1:X,y1:y1,x2:X,y2:y1-11,stroke:"#262626","stroke-width":2},g);
    mk("line",{x1:X,y1:y0,x2:X,y2:y0+11,stroke:"#262626","stroke-width":2},g);
    const lb=mk("text",{x:X,y:y1+35,"text-anchor":"middle","font-family":FONT,"font-size":25,fill:"#262626"},g);
    lb.textContent=String(v);
    
    
  });
  p.t.forEach(v=>{
    const Y=sy(v);
    mk("line",{x1:x0,y1:Y,x2:x0+11,y2:Y,stroke:"#262626","stroke-width":2},g);
    mk("line",{x1:x1,y1:Y,x2:x1-11,y2:Y,stroke:"#262626","stroke-width":2},g);
    const lb=mk("text",{x:x0-7,y:Y+9,"text-anchor":"end","font-family":FONT,"font-size":25,fill:"#262626"},g);
    lb.textContent=String(v);
    
    
  });
  if(p.n===1){
    const lg=mk("g",{},g);
    
    
    mk("rect",{x:927,y:297,width:242,height:255,fill:"#fff",stroke:"#262626","stroke-width":2},lg);
    seriesNames.forEach((nm,si)=>{
      const Y=325+40*si;
      const ent=mk("g",{},lg);
      
      
      mk("line",{x1:942,y1:Y,x2:1054,y2:Y,stroke:colors[si],"stroke-width":2},ent);
      const tx=mk("text",{x:1067,y:Y+9,"font-family":FONT,"font-size":25,fill:"#000"},ent);
      tx.textContent=nm;
    });
  }
});
</script>
</body></html>
